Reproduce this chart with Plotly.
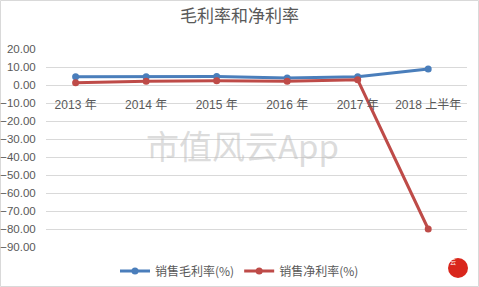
import plotly.graph_objects as go

categories = ["2013 年", "2014 年", "2015 年", "2016 年", "2017 年", "2018 上半年"]
gross_margin = [4.6, 4.6, 4.7, 3.9, 4.6, 8.9]
net_margin = [1.3, 2.1, 2.4, 2.1, 2.9, -80.0]
y_ticks = [20, 10, 0, -10, -20, -30, -40, -50, -60, -70, -80, -90]

W, H = 479, 287
ML, MR, MT, MB = 46, 12, 49, 40
PW, PH = W - ML - MR, H - MT - MB

def px(x):
    return (x - ML) / PW

def py(y):
    return (H - MB - y) / PH

fig = go.Figure()
fig.add_trace(go.Scatter(
    x=categories, y=gross_margin, name="销售毛利率(%)", mode="lines+markers",
    line=dict(color="#4A7EBB", width=3), marker=dict(size=7, color="#4A7EBB")))
fig.add_trace(go.Scatter(
    x=categories, y=net_margin, name="销售净利率(%)", mode="lines+markers",
    line=dict(color="#BE4B48", width=3), marker=dict(size=7, color="#BE4B48")))

fig.update_layout(
    width=W, height=H,
    margin=dict(l=ML, r=MR, t=MT, b=MB, autoexpand=False),
    paper_bgcolor="white", plot_bgcolor="white",
    font=dict(family="Liberation Sans, Noto Sans CJK SC", color="#595959", size=11),
    title=dict(text="毛利率和净利率", x=0.5, xanchor="center", y=1 - 16 / H, yanchor="middle",
               font=dict(family="Noto Sans CJK SC", size=17, color="#595959")),
    showlegend=True,
    legend=dict(orientation="h", xref="container", yref="container", x=0.5, xanchor="center",
                y=1 - 271 / H, yanchor="middle",
                font=dict(family="Noto Sans CJK SC", size=12, color="#595959"),
                bgcolor="rgba(0,0,0,0)"),
    xaxis=dict(type="category", range=[-0.42, 5.55], anchor="free", position=90 / 110,
               showgrid=False, showline=False, zeroline=False, ticks="outside", ticklen=9,
               tickcolor="rgba(0,0,0,0)", automargin=False,
               tickfont=dict(family="Liberation Sans, Noto Sans CJK SC", size=12, color="#595959")),
    yaxis=dict(range=[-90, 20], tickvals=y_ticks, tickformat=".2f", showgrid=True,
               gridcolor="#D9D9D9", gridwidth=1, zeroline=False, showline=False, automargin=False,
               ticks="outside", ticklen=7, tickcolor="rgba(0,0,0,0)",
               tickfont=dict(size=11.5, color="#595959")),
)

fig.add_annotation(text="市值风云App", xref="paper", yref="paper", x=px(242), y=py(145),
                   showarrow=False, font=dict(family="Noto Sans CJK SC", size=33,
                                              color="rgba(190,190,190,0.55)"))

fig.add_shape(type="rect", xref="paper", yref="paper", x0=px(0.5), x1=px(478.5),
              y0=py(286.5), y1=py(0.5), line=dict(color="#D9D9D9", width=1), layer="below")
fig.add_shape(type="circle", xref="paper", yref="paper", x0=px(448), x1=px(468),
              y0=py(278), y1=py(258), fillcolor="#D9261C", line=dict(width=0))
fig.add_annotation(text="风<br>云", xref="paper", yref="paper", x=px(458), y=py(268),
                   showarrow=False, font=dict(family="Noto Sans CJK SC", size=6, color="white"))

fig.write_html("out.html")
